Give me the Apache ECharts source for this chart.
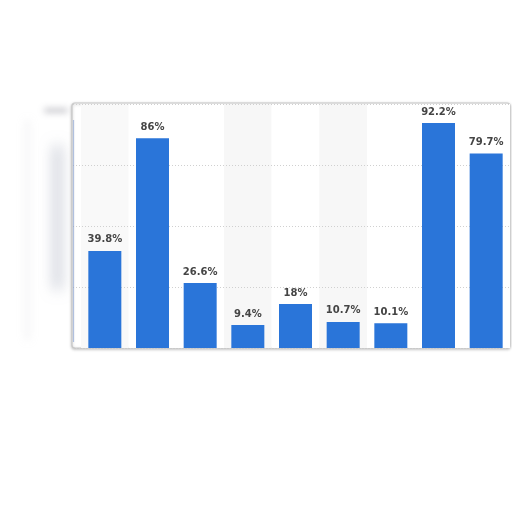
<!DOCTYPE html>
<html><head><meta charset="utf-8">
<script src="https://cdn.jsdelivr.net/npm/echarts@6/dist/echarts.min.js"></script>
<style>html,body{margin:0;padding:0;background:#fff}#c{width:512px;height:512px}</style>
</head><body><div id="c"></div>
<script>
const categories = ['1','2','3','4','5','6','7','8','9'];
const values = [39.8, 86, 26.6, 9.4, 18, 10.7, 10.1, 92.2, 79.7];
const yTicks = [0, 25, 50, 75, 100];

const chart = echarts.init(document.getElementById('c'), null, {renderer:'canvas'});
const bandColors = ['#f9f9f9','#ffffff','#ffffff','#f7f7f7','#ffffff','#f7f7f7','#ffffff','#ffffff','#ffffff'];
const OFF = 2000;
chart.setOption({
  backgroundColor:'#fff',
  animation:false,
  graphic:[
    {type:'rect', z:-10, shape:{x:54-OFF,y:145,width:7,height:145,r:3}, style:{fill:'#000', shadowBlur:14, shadowOffsetX:OFF, shadowColor:'rgba(140,148,170,0.55)'}},
    {type:'rect', z:-10, shape:{x:44-OFF,y:108,width:24,height:5,r:2}, style:{fill:'#000', shadowBlur:6, shadowOffsetX:OFF, shadowColor:'rgba(140,140,150,0.45)'}},
    {type:'rect', z:-10, shape:{x:26-OFF,y:120,width:3,height:220}, style:{fill:'#000', shadowBlur:8, shadowOffsetX:OFF, shadowColor:'rgba(200,200,205,0.35)'}},
    {type:'rect', z:-5, shape:{x:72,y:103,width:438,height:245,r:3}, style:{fill:'#fff', stroke:'#c9c9c9', lineWidth:1.2, shadowBlur:3, shadowOffsetY:1, shadowColor:'rgba(0,0,0,0.25)'}},
    {type:'line', z:50, shape:{x1:73.5,y1:120,x2:73.5,y2:342}, style:{stroke:'rgba(120,150,205,0.55)', lineWidth:1.2}}
  ],
  grid:[
    {left:81, right:2, top:104, bottom:164, containLabel:false},
    {left:73, right:3, top:104, bottom:164, containLabel:false}
  ],
  xAxis:[
    {type:'category', gridIndex:0, data:categories, boundaryGap:true,
     axisLine:{show:false}, axisTick:{show:false}, axisLabel:{show:false},
     splitArea:{show:true, areaStyle:{color:bandColors}}},
    {type:'value', gridIndex:1, show:false, min:0, max:1}
  ],
  yAxis:[
    {type:'value', gridIndex:0, min:yTicks[0], max:yTicks[yTicks.length-1], interval:25,
     axisLine:{show:false}, axisTick:{show:false}, axisLabel:{show:false}, splitLine:{show:false}},
    {type:'value', gridIndex:1, min:yTicks[0], max:yTicks[yTicks.length-1], interval:25, z:1,
     axisLine:{show:false}, axisTick:{show:false}, axisLabel:{show:false},
     splitLine:{show:true, lineStyle:{color:'#d0d0d0', type:[1,2], width:1}}}
  ],
  series:[{
    type:'bar', xAxisIndex:0, yAxisIndex:0, data:values, barWidth:33, z:5,
    itemStyle:{color:'#2a75d9'},
    label:{show:true, position:'top', distance:6, formatter:p=>p.value+'%',
      color:'#454545', fontFamily:'"DejaVu Sans", Verdana, sans-serif', fontWeight:'bold', fontSize:10}
  }]
});
</script></body></html>
